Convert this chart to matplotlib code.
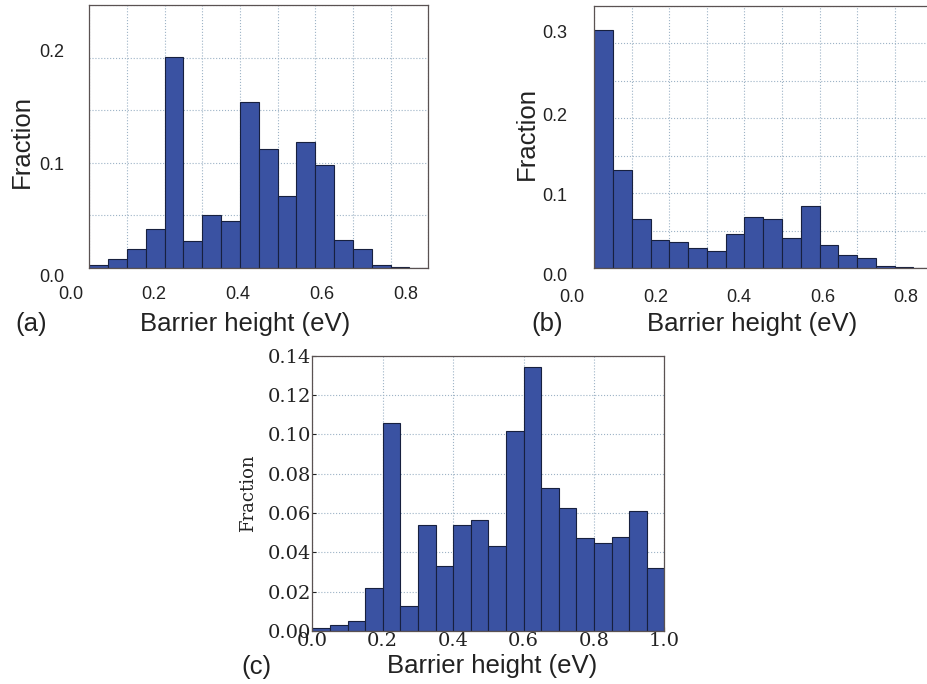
import numpy as np
import matplotlib
matplotlib.use("Agg")
import matplotlib.pyplot as plt

# histogram heights (fraction per bin)
frac_a = [0.0032, 0.0086, 0.0178, 0.037, 0.201, 0.0257, 0.0507, 0.0444, 0.1575,
          0.1135, 0.0684, 0.120, 0.0983, 0.0266, 0.0184, 0.0032, 0.0007, 0.0]
frac_b = [0.3178, 0.131, 0.0657, 0.0382, 0.0347, 0.0271, 0.0235, 0.0462, 0.0684,
          0.0653, 0.0404, 0.0827, 0.0311, 0.0173, 0.0142, 0.0027, 0.0018, 0.0005]
frac_c = [0.0015, 0.0031, 0.0049, 0.0220, 0.1059, 0.0129, 0.0539, 0.0332, 0.0539,
          0.0564, 0.0432, 0.1019, 0.1342, 0.0729, 0.0627, 0.0473, 0.0447, 0.0478,
          0.0608, 0.0322]

# bin edges (eV)
edges_a = np.linspace(0.04, 0.85, 19)
edges_b = np.linspace(0.05, 0.86, 19)
edges_c = np.linspace(0.0, 1.0, 21)

xlabels_ab = ["0.0", "0.2", "0.4", "0.6", "0.8"]
xvals_ab = [0.0, 0.2, 0.4, 0.6, 0.8]
ylabels_a = ["0.0", "0.1", "0.2"]
ylabels_b = ["0.0", "0.1", "0.2", "0.3"]

W, H = 928, 684
BAR = "#3a52a2"
EDGE = "#17203f"
GRID = "#9db3c6"
SPINE = "#5a5252"

fig = plt.figure(figsize=(W / 100, H / 100), dpi=100)
fig.patch.set_facecolor("white")


def px_box(l, r, t, b):
    return [l / W, 1 - b / H, (r - l) / W, (b - t) / H]


def histo(ax, edges, vals):
    ax.bar(edges[:-1], vals, width=np.diff(edges), align="edge",
           color=BAR, edgecolor=EDGE, linewidth=0.8, zorder=2)
    ax.set_xlim(edges[0], edges[-1])
    for s in ax.spines.values():
        s.set_color(SPINE)
        s.set_linewidth(0.9)
        s.set_zorder(3)
    ax.grid(True, which="both", color=GRID, linestyle=":", linewidth=0.8, zorder=0)
    ax.set_axisbelow(True)


sans = "Liberation Sans"

# ---- panel (a)
ax_a = fig.add_axes(px_box(89.3, 428.3, 5, 268))
histo(ax_a, edges_a, frac_a)
ax_a.set_ylim(0, 0.25)
ax_a.set_xticks(edges_a[::2])
ax_a.set_yticks(np.arange(0, 0.26, 0.05))
ax_a.tick_params(length=0, labelbottom=False, labelleft=False)
for v, lab in zip(xvals_ab, xlabels_ab):
    ax_a.text(v - 0.005, -0.1, lab, transform=ax_a.get_xaxis_transform(),
              ha="center", va="center", fontsize=13, family=sans, color="#222222",
              clip_on=False)
for v, lab in zip([-0.0086, 0.0979, 0.2044], ylabels_a):
    ax_a.text(-0.11, v, lab, transform=ax_a.get_yaxis_transform(),
              ha="center", va="center", fontsize=13, family=sans, color="#222222",
              clip_on=False)

# ---- panel (b)
ax_b = fig.add_axes(px_box(594.3, 932.2, 5.7, 268.3))
histo(ax_b, edges_b, frac_b)
ax_b.set_ylim(0, 0.35)
ax_b.set_xticks(edges_b[::2])
ax_b.set_yticks(np.arange(0, 0.36, 0.05))
ax_b.tick_params(length=0, labelbottom=False, labelleft=False)
for v, lab in zip(xvals_ab, xlabels_ab):
    ax_b.text(v - 0.003, -0.11, lab, transform=ax_b.get_xaxis_transform(),
              ha="center", va="center", fontsize=13, family=sans, color="#222222",
              clip_on=False)
for v, lab in zip([-0.011, 0.0955, 0.202, 0.313], ylabels_b):
    ax_b.text(-0.116, v, lab, transform=ax_b.get_yaxis_transform(),
              ha="center", va="center", fontsize=13, family=sans, color="#222222",
              clip_on=False)

# ---- panel (c)
ax_c = fig.add_axes(px_box(312.3, 664.3, 355.7, 631))
histo(ax_c, edges_c, frac_c)
ax_c.set_ylim(0, 0.14)
ax_c.set_xticks(np.arange(0, 1.01, 0.2))
ax_c.set_yticks(np.arange(0, 0.141, 0.02))
ax_c.grid(True, color=GRID, linestyle=":", linewidth=0.8)
ax_c.tick_params(direction="in", length=3, pad=1, labelsize=14, colors="#222222")
for t in ax_c.get_xticklabels() + ax_c.get_yticklabels():
    t.set_family("DejaVu Serif")
ax_c.set_xticklabels(["0.0", "0.2", "0.4", "0.6", "0.8", "1.0"])
ax_c.set_yticklabels(["0.00", "0.02", "0.04", "0.06", "0.08", "0.10", "0.12", "0.14"])
for t in ax_c.get_xticklabels() + ax_c.get_yticklabels():
    t.set_family("DejaVu Serif")
ax_c.set_ylabel("Fraction", family="DejaVu Serif", fontsize=13, color="#222222")
ax_c.yaxis.set_label_coords(-0.156, 0.5)

# ---- axis titles and panel letters
fig.text(22 / W, 1 - 141 / H, "Fraction", rotation=90, ha="center", va="center",
         fontsize=18.5, family=sans, color="#222222")
fig.text(527 / W, 1 - 134 / H, "Fraction", rotation=90, ha="center", va="center",
         fontsize=18.5, family=sans, color="#222222")
for x, y in [(245, 324), (751.7, 324), (492.5, 666)]:
    fig.text(x / W, 1 - y / H, "Barrier height (eV)", ha="center", va="center",
             fontsize=18.5, family=sans, color="#222222")
for x, y, lab in [(31, 324, "(a)"), (547, 324, "(b)"), (256, 667, "(c)")]:
    fig.text(x / W, 1 - y / H, lab, ha="center", va="center",
             fontsize=18.5, family=sans, color="#222222")

fig.savefig("out.png", dpi=100)
